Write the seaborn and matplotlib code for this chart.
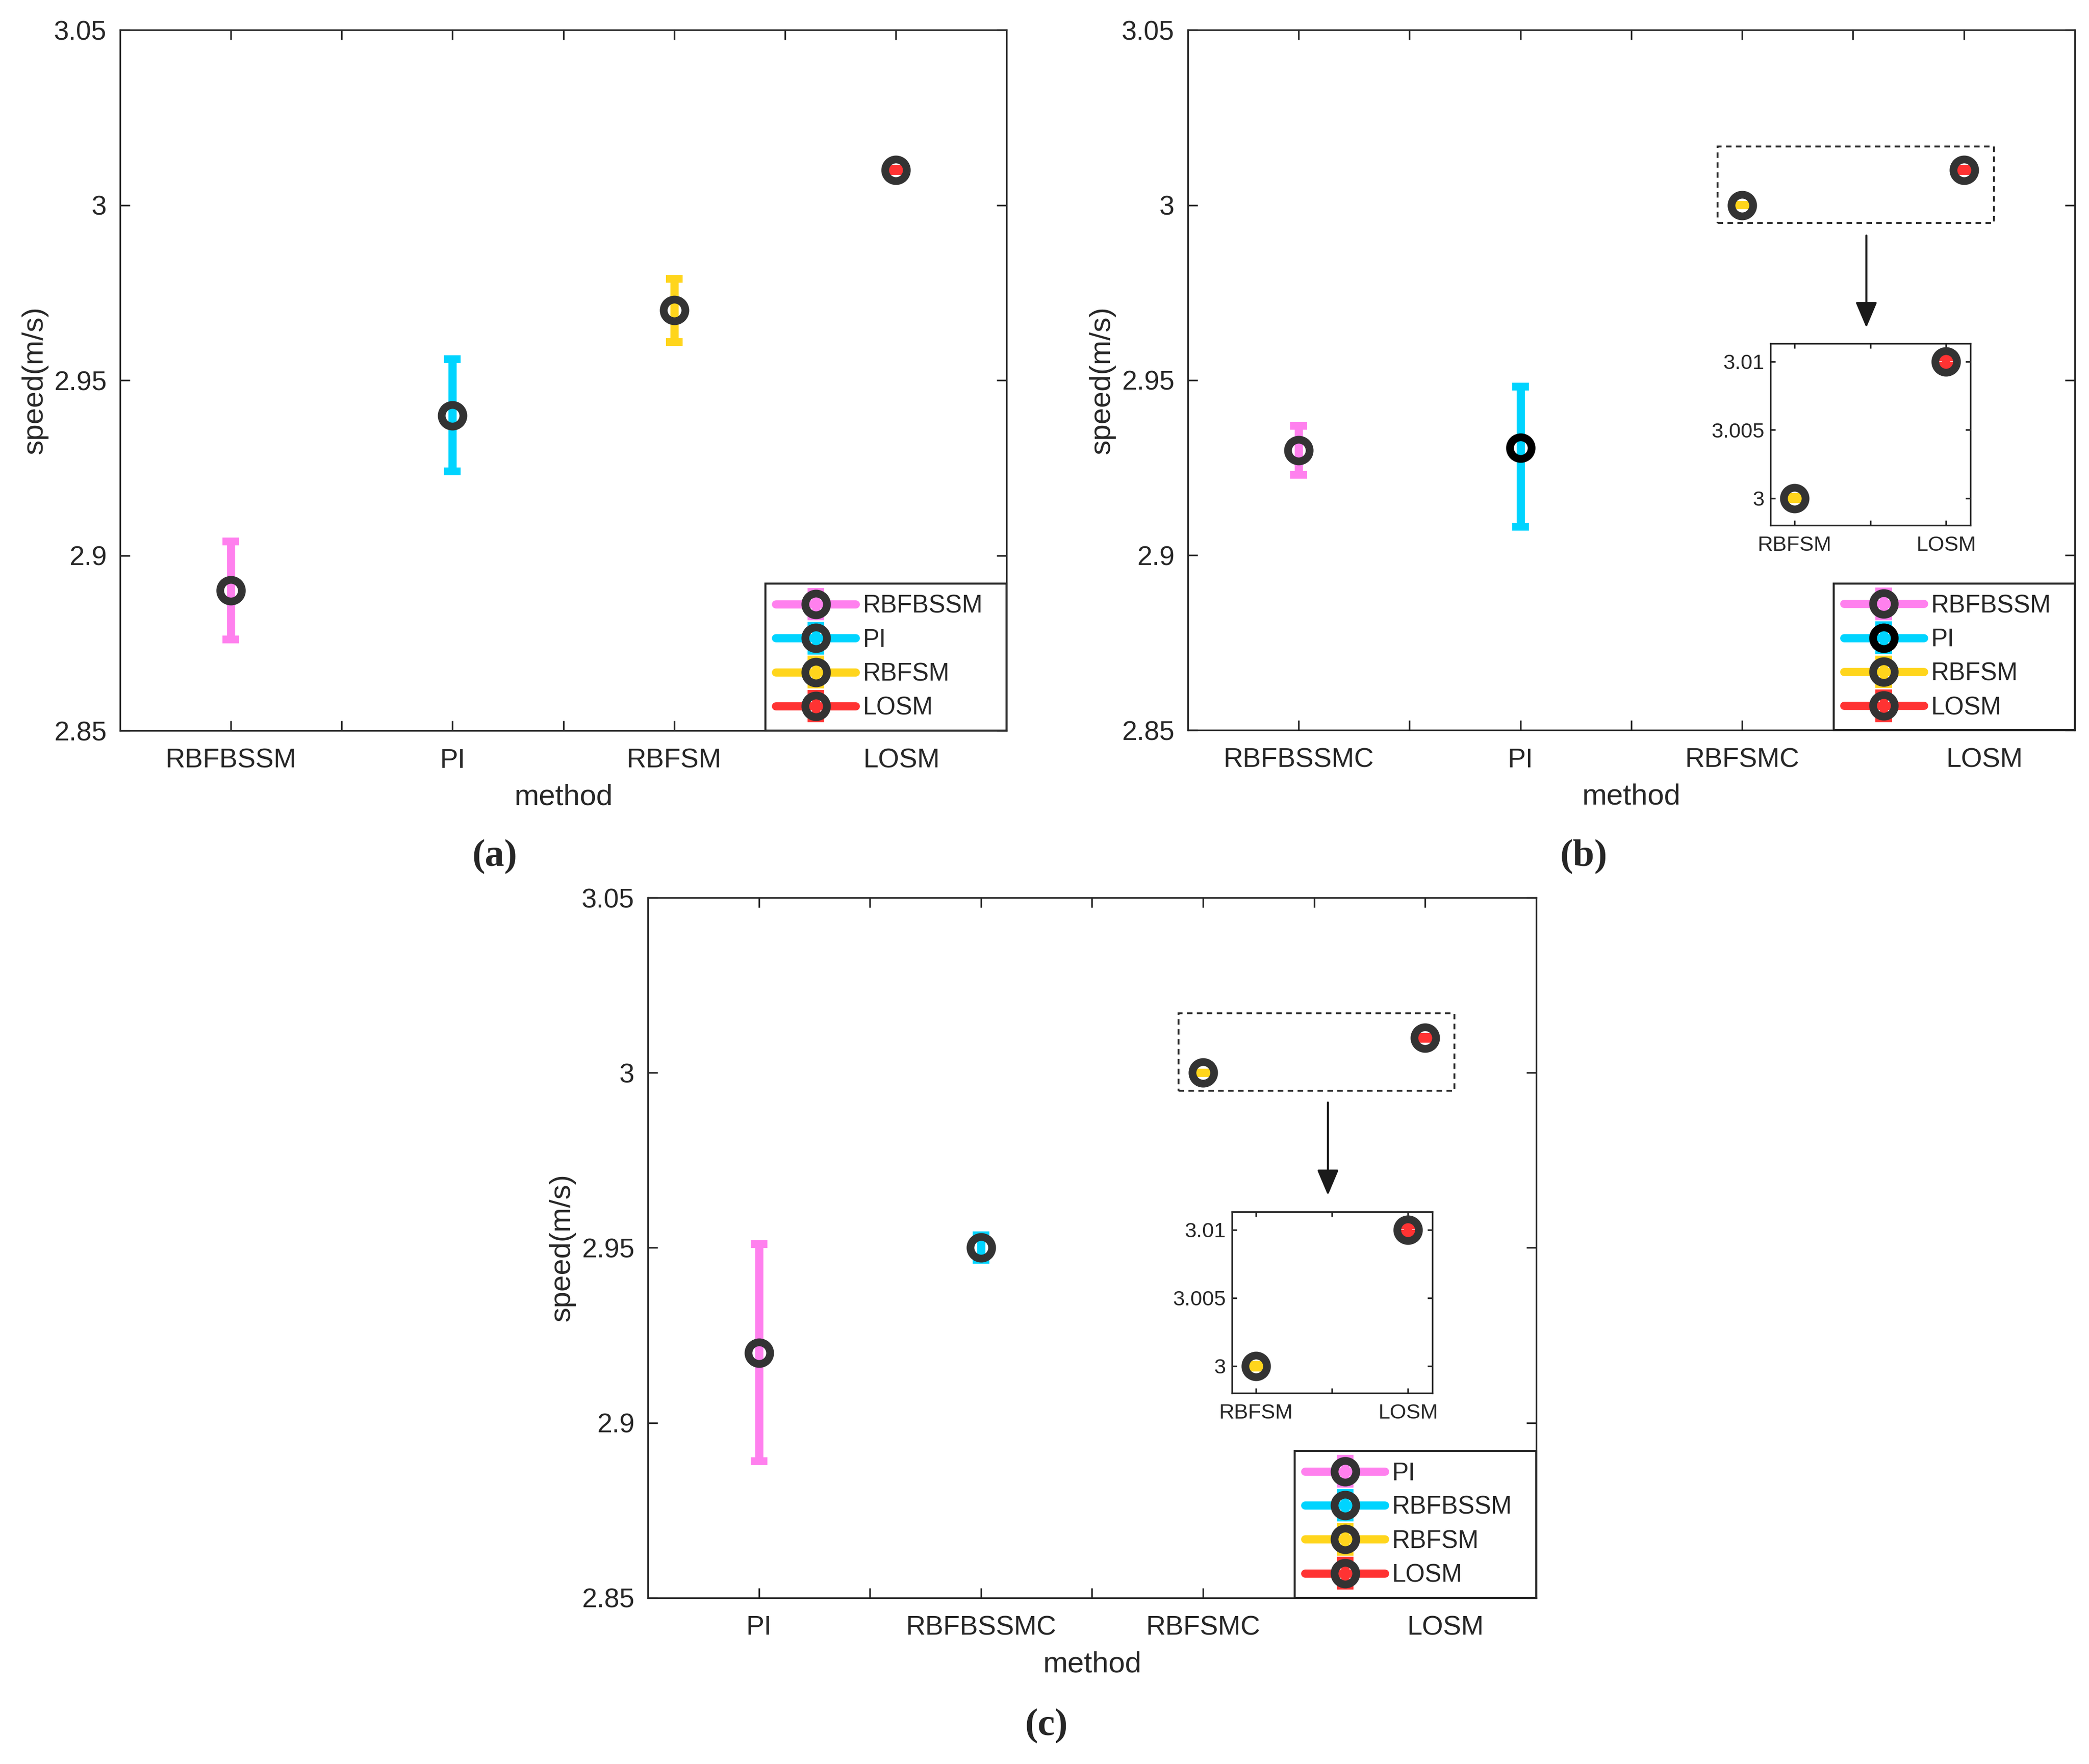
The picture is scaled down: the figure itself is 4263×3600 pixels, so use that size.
import numpy as np
import pandas as pd
import matplotlib
matplotlib.use('Agg')
import matplotlib.pyplot as plt
import matplotlib.patches as patches
import seaborn as sns

# ---- data ----
# panel (a)
methods_a = ['RBFBSSM', 'PI', 'RBFSM', 'LOSM']
speed_a = [2.89, 2.94, 2.97, 3.01]
err_lo_a = [0.014, 0.016, 0.009, 0.0003]
err_hi_a = [0.014, 0.016, 0.009, 0.0003]
legend_a = ['RBFBSSM', 'PI', 'RBFSM', 'LOSM']

# panel (b)
methods_b = ['RBFBSSMC', 'PI', 'RBFSMC', 'LOSM']
speed_b = [2.93, 2.9307, 3.0, 3.01]
err_lo_b = [0.007, 0.0225, 0.0001, 0.0003]
err_hi_b = [0.007, 0.0174, 0.0001, 0.0003]
legend_b = ['RBFBSSM', 'PI', 'RBFSM', 'LOSM']

# panel (c)
methods_c = ['PI', 'RBFBSSMC', 'RBFSMC', 'LOSM']
speed_c = [2.92, 2.95, 3.0, 3.01]
err_lo_c = [0.031, 0.0035, 0.0001, 0.0003]
err_hi_c = [0.031, 0.0035, 0.0001, 0.0003]
legend_c = ['PI', 'RBFBSSM', 'RBFSM', 'LOSM']

inset_labels = ['RBFSM', 'LOSM']

y_ticks = [2.85, 2.9, 2.95, 3.0, 3.05]
y_ticklabels = ['2.85', '2.9', '2.95', '3', '3.05']
inset_yticks = [3.0, 3.005, 3.01]
inset_yticklabels = ['3', '3.005', '3.01']

colors = ['#FF80EE', '#00D4FF', '#FFD51C', '#FF3333']
ring = '#333333'

sns.set_theme(style='ticks')
plt.rcParams['font.family'] = ['Liberation Sans', 'DejaVu Sans']
plt.rcParams['axes.edgecolor'] = '#262626'
plt.rcParams['axes.linewidth'] = 0.8

fig = plt.figure(figsize=(4263 / 300, 3600 / 300), dpi=300)


def style_axes(ax, lsize, xpad, ypad, tlen):
    ax.tick_params(direction='in', length=tlen, width=0.8, top=True, right=True,
                   colors='#262626', labelcolor='#262626', labelsize=lsize)
    ax.tick_params(axis='x', pad=xpad)
    ax.tick_params(axis='y', pad=ypad)
    for s in ax.spines.values():
        s.set_visible(True)
        s.set_color('#262626')


def draw_points(ax, xs, ys, lo, hi, cols, labels, edges):
    for i in range(len(xs)):
        ax.errorbar([xs[i]], [ys[i]], yerr=[[lo[i]], [hi[i]]], fmt='-o',
                    color=cols[i], lw=4, elinewidth=4, capsize=4, capthick=4,
                    ms=10.6, mew=3.8, mfc='none', mec=edges[i],
                    label=labels[i] if labels else None, zorder=3)


def draw_panel(rect, methods, speeds, lo, hi, leg, losm_off, edges,
               inset_rect=None, box=None, arrow=None):
    ax = fig.add_axes(rect)
    xs = [0.5, 1.5, 2.5, 3.5]
    draw_points(ax, xs, speeds, lo, hi, colors, leg, edges)
    ax.set_xlim(0, 4)
    ax.set_ylim(2.85, 3.05)
    ax.set_xticks([0.5, 1.0, 1.5, 2.0, 2.5, 3.0, 3.5])
    ax.set_xticklabels([methods[0], '', methods[1], '', methods[2], '', ''])
    ax.set_yticks(y_ticks)
    ax.set_yticklabels(y_ticklabels)
    style_axes(ax, 13.3, 8.5, 6.5, 4.9)
    ax.annotate(methods[3], xy=(3.5 + losm_off, 0), xycoords=('data', 'axes fraction'),
                xytext=(0, -8.5), textcoords='offset points', ha='center', va='top',
                fontsize=13.3, color='#262626')
    ax.set_xlabel('method', fontsize=14.5, labelpad=5, color='#262626')
    ax.set_ylabel('speed(m/s)', fontsize=14.5, labelpad=3, color='#262626')
    lg = ax.legend(loc='lower right', bbox_to_anchor=(0.728, 0, 0.272, 0.2),
                   mode='expand', borderaxespad=0, fancybox=False, framealpha=1,
                   edgecolor='#262626', fontsize=12.2, handlelength=3.2,
                   labelspacing=0.4, borderpad=0.42, handletextpad=0.3)
    lg.get_frame().set_linewidth(1.0)

    if box is not None:
        x0, y0, x1, y1 = box
        ax.add_patch(patches.Rectangle((x0, y0), x1 - x0, y1 - y0, fill=False,
                                       ec='#262626', lw=0.9, ls=(0, (3, 2.4)), zorder=2))
    if arrow is not None:
        ax_x, ay0, ay1 = arrow
        ax.annotate('', xy=(ax_x, ay1), xytext=(ax_x, ay0),
                    arrowprops=dict(arrowstyle='-|>,head_length=0.9,head_width=0.38',
                                    lw=1.0, color='k', shrinkA=0, shrinkB=0))
    if inset_rect is not None:
        ins = fig.add_axes(inset_rect)
        draw_points(ins, xs[2:], speeds[2:], lo[2:], hi[2:], colors[2:], None, edges[2:])
        ins.set_xlim(2.342, 3.66)
        ins.set_ylim(2.99802, 3.01132)
        ins.set_xticks([2.5, 3.0, 3.5])
        ins.set_xticklabels([inset_labels[0], '', inset_labels[1]])
        ins.set_yticks(inset_yticks)
        ins.set_yticklabels(inset_yticklabels)
        style_axes(ins, 10.4, 5, 3, 2.5)
    return ax


ax_a = draw_panel([0.0575, 0.5858, 0.4243, 0.3972], methods_a, speed_a, err_lo_a, err_hi_a,
                  legend_a, 0.027, [ring] * 4)
ax_b = draw_panel([0.5686, 0.5860, 0.4246, 0.3970], methods_b, speed_b, err_lo_b, err_hi_b,
                  legend_b, 0.093, [ring, '#000000', ring, ring],
                  inset_rect=[0.8475, 0.7023, 0.0957, 0.1030],
                  box=(2.388, 2.9949, 3.636, 3.0167), arrow=(3.060, 2.9913, 2.965))
ax_c = draw_panel([0.3101, 0.0942, 0.4253, 0.3969], methods_c, speed_c, err_lo_c, err_hi_c,
                  legend_c, 0.091, [ring] * 4,
                  inset_rect=[0.5897, 0.2103, 0.0960, 0.1028],
                  box=(2.390, 2.9949, 3.631, 3.0170), arrow=(3.062, 2.9915, 2.965))

for txt, x, y in [('(a)', 0.2368, 0.5142), ('(b)', 0.758, 0.5142), ('(c)', 0.501, 0.0214)]:
    fig.text(x, y, txt, ha='center', va='center', fontsize=19, fontweight='bold',
             family=['Liberation Serif', 'DejaVu Serif'])

fig.savefig('out.png', dpi=300)
